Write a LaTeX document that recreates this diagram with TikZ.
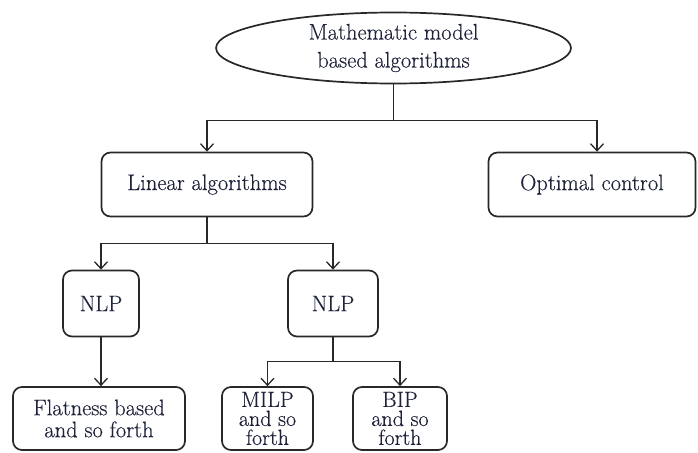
\documentclass[tikz,border=0pt]{standalone}
\usepackage{fontspec}
\setmainfont{Latin Modern Roman}[FakeBold=0.35]
\usetikzlibrary{shapes.geometric,arrows.meta}
\definecolor{ink}{RGB}{30,34,58}
\definecolor{edge}{RGB}{40,40,40}
\tikzset{
  box/.style={draw=edge, line width=1.7pt, rounded corners=9pt, inner sep=0pt,
    align=center, text=ink, font=\fontsize{22.5}{22}\selectfont},
  oval/.style={ellipse, draw=edge, line width=1.7pt, inner sep=0pt,
    align=center, text=ink, font=\fontsize{22.5}{28}\selectfont},
  link/.style={draw=edge, line width=1.4pt},
  arr/.style={link, -{Straight Barb[length=7pt,width=13pt,line width=1.3pt]}}
}
\begin{document}
\begin{tikzpicture}[x=1pt,y=-1pt]
\useasboundingbox (0,0) rectangle (698,452);

% root
\node[oval, minimum width=355pt, minimum height=71pt] (top) at (393.5,48)
  {Mathematic model\\based algorithms};

% second level
\node[box, minimum width=211pt, minimum height=64pt] (lin) at (207,184.5) {Linear algorithms};
\node[box, minimum width=207pt, minimum height=64pt] (opt) at (592,184.5) {Optimal control};

% third level
\node[box, minimum width=76pt, minimum height=66pt] (nlpa) at (101,303.5) {NLP};
\node[box, minimum width=90pt, minimum height=66pt] (nlpb) at (333,303.5) {NLP};

% leaves
\node[box, minimum width=172pt, minimum height=63pt] (flat) at (99,418.5) {Flatness based\\and so forth};
\node[box, minimum width=91pt, minimum height=63pt, font=\fontsize{22}{19}\selectfont] (milp) at (267.5,418.5) {MILP\\and so\\forth};
\node[box, minimum width=94pt, minimum height=63pt, font=\fontsize{22}{19}\selectfont] (bip) at (400,418.5) {BIP\\and so\\forth};

% connectors
\draw[link] (top.south) -- ++(0,36) coordinate (ja);
\draw[arr] (ja) -| (lin.north);
\draw[arr] (ja) -| ([xshift=5pt]opt.north);

\draw[link] (lin.south) -- ++(0,26) coordinate (jb);
\draw[arr] (jb) -| (nlpa.north);
\draw[arr] (jb) -| (nlpb.north);

\draw[arr] (nlpa.south) -- (nlpa.south |- flat.north);

\draw[link] (nlpb.south) -- ++(0,24) coordinate (jc);
\draw[arr] (jc) -| (milp.north);
\draw[arr] (jc) -| (bip.north);
\end{tikzpicture}
\end{document}
